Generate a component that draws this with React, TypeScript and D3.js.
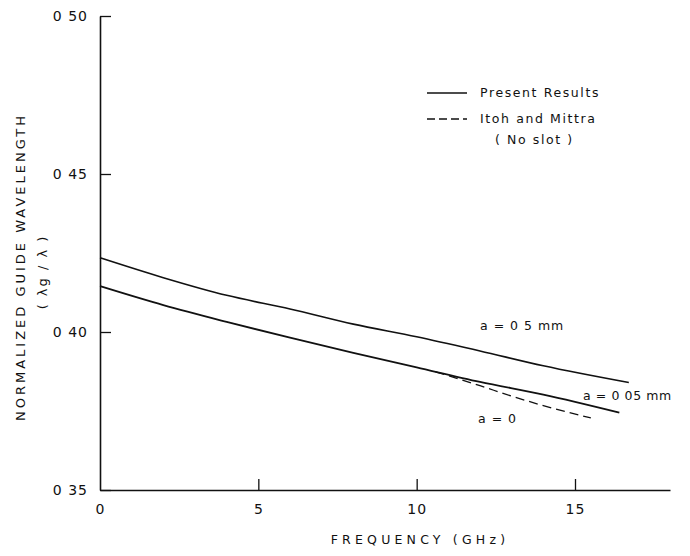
import React, { useRef, useEffect } from 'react';
import * as d3 from 'd3';

// a = 0.5 mm (present results)
const freqUpper = [0, 2, 4, 6, 8, 10, 12, 14, 16.7];
const upperVals = [0.4235, 0.4172, 0.4116, 0.4073, 0.4025, 0.3985, 0.394, 0.3893, 0.384];

// a = 0.05 mm (present results)
const freqLower = [0, 2, 4, 6, 8, 10, 12, 14, 16.4];
const lowerVals = [0.4145, 0.4085, 0.4032, 0.3982, 0.3934, 0.3888, 0.3842, 0.3802, 0.3745];

// a = 0, Itoh and Mittra (no slot)
const freqItoh = [10.6, 12, 13, 14, 15.5];
const itohVals = [0.3874, 0.383, 0.3797, 0.3767, 0.3728];

const xTicks = [0, 5, 10, 15];
const xTickLabels = ['0', '5', '10', '15'];
const yTicks = [0.35, 0.4, 0.45, 0.5];
const yTickLabels = ['0 35', '0 40', '0 45', '0 50'];

const FONT = '"DejaVu Sans", sans-serif';

const App = () => {
    const ref = useRef<SVGSVGElement>(null);

    useEffect(() => {
        document.body.style.margin = '0';
        const svg = d3.select(ref.current);
        svg.selectAll('*').remove();

        const x = d3.scaleLinear().domain([0, 18]).range([100, 670]);
        const y = d3.scaleLinear().domain([0.35, 0.5]).range([490, 16]);

        // y axis, ticks pointing inward
        const yAxis = svg.append('g')
            .attr('transform', `translate(${x(0)},0)`)
            .call(d3.axisLeft(y)
                .tickValues(yTicks)
                .tickFormat((d, i) => yTickLabels[i])
                .tickSize(-11)
                .tickSizeOuter(0)
                .tickPadding(12));

        // x axis, ticks pointing up
        const xAxis = svg.append('g')
            .attr('transform', `translate(0,${y(0.35)})`)
            .call(d3.axisBottom(x)
                .tickValues(xTicks)
                .tickFormat((d, i) => xTickLabels[i])
                .tickSize(-11)
                .tickSizeOuter(0)
                .tickPadding(14));

        [yAxis, xAxis].forEach(g => {
            g.select('.domain').attr('stroke', '#111').attr('stroke-width', 1.6);
            g.selectAll('.tick line').attr('stroke', '#111').attr('stroke-width', 1.3);
            g.selectAll('.tick text')
                .attr('fill', '#111')
                .style('font-family', FONT)
                .style('font-size', '14px')
                .style('letter-spacing', '1px');
        });
        xAxis.selectAll('.tick').filter((d: any) => d === 0).select('line').remove();

        const line = d3.line<[number, number]>()
            .x(d => x(d[0]))
            .y(d => y(d[1]))
            .curve(d3.curveMonotoneX);

        const zip = (a: number[], b: number[]) => a.map((v, i) => [v, b[i]] as [number, number]);

        svg.append('path')
            .attr('d', line(zip(freqUpper, upperVals)))
            .attr('fill', 'none').attr('stroke', '#111').attr('stroke-width', 1.6);
        svg.append('path')
            .attr('d', line(zip(freqLower, lowerVals)))
            .attr('fill', 'none').attr('stroke', '#111').attr('stroke-width', 1.8);
        svg.append('path')
            .attr('d', line(zip(freqItoh, itohVals)))
            .attr('fill', 'none').attr('stroke', '#111').attr('stroke-width', 1.3)
            .attr('stroke-dasharray', '9,5');

        const txt = (tx: number, ty: number, s: string, size = 12, anchor = 'start', ls = 1) =>
            svg.append('text')
                .attr('x', tx).attr('y', ty)
                .attr('text-anchor', anchor)
                .style('font-family', FONT)
                .style('font-size', `${size}px`)
                .style('letter-spacing', `${ls}px`)
                .attr('fill', '#111')
                .text(s);

        // curve labels
        txt(480, 330, 'a = 0 5 mm', 12.5, 'start', 1);
        txt(583, 400, 'a = 0 05 mm', 12.5, 'start', 0.6);
        txt(478, 423, 'a = 0', 12.5, 'start', 1);

        // legend
        svg.append('line').attr('x1', 427).attr('x2', 467).attr('y1', 93).attr('y2', 93)
            .attr('stroke', '#111').attr('stroke-width', 1.4);
        svg.append('line').attr('x1', 427).attr('x2', 467).attr('y1', 119).attr('y2', 119)
            .attr('stroke', '#111').attr('stroke-width', 1.3).attr('stroke-dasharray', '8,4');
        txt(480, 97, 'Present  Results', 12.5, 'start', 1.6);
        txt(480, 123, 'Itoh  and  Mittra', 12.5, 'start', 1.6);
        txt(495, 144, '( No  slot )', 12.5, 'start', 1.6);

        // axis titles
        txt(420, 544, 'FREQUENCY  (GHz)', 12.5, 'middle', 4.2);
        svg.append('text')
            .attr('transform', 'translate(25,267) rotate(-90)')
            .attr('text-anchor', 'middle')
            .style('font-family', FONT)
            .style('font-size', '13px')
            .style('letter-spacing', '3px')
            .attr('fill', '#111')
            .text('NORMALIZED   GUIDE   WAVELENGTH');
        svg.append('text')
            .attr('transform', 'translate(47,272) rotate(-90)')
            .attr('text-anchor', 'middle')
            .style('font-family', FONT)
            .style('font-size', '13px')
            .style('letter-spacing', '2px')
            .attr('fill', '#111')
            .text('( λg / λ )');
    }, []);

    return <svg ref={ref} width={690} height={556} style={{ display: 'block', background: '#fff' }} />;
};

export default App;
